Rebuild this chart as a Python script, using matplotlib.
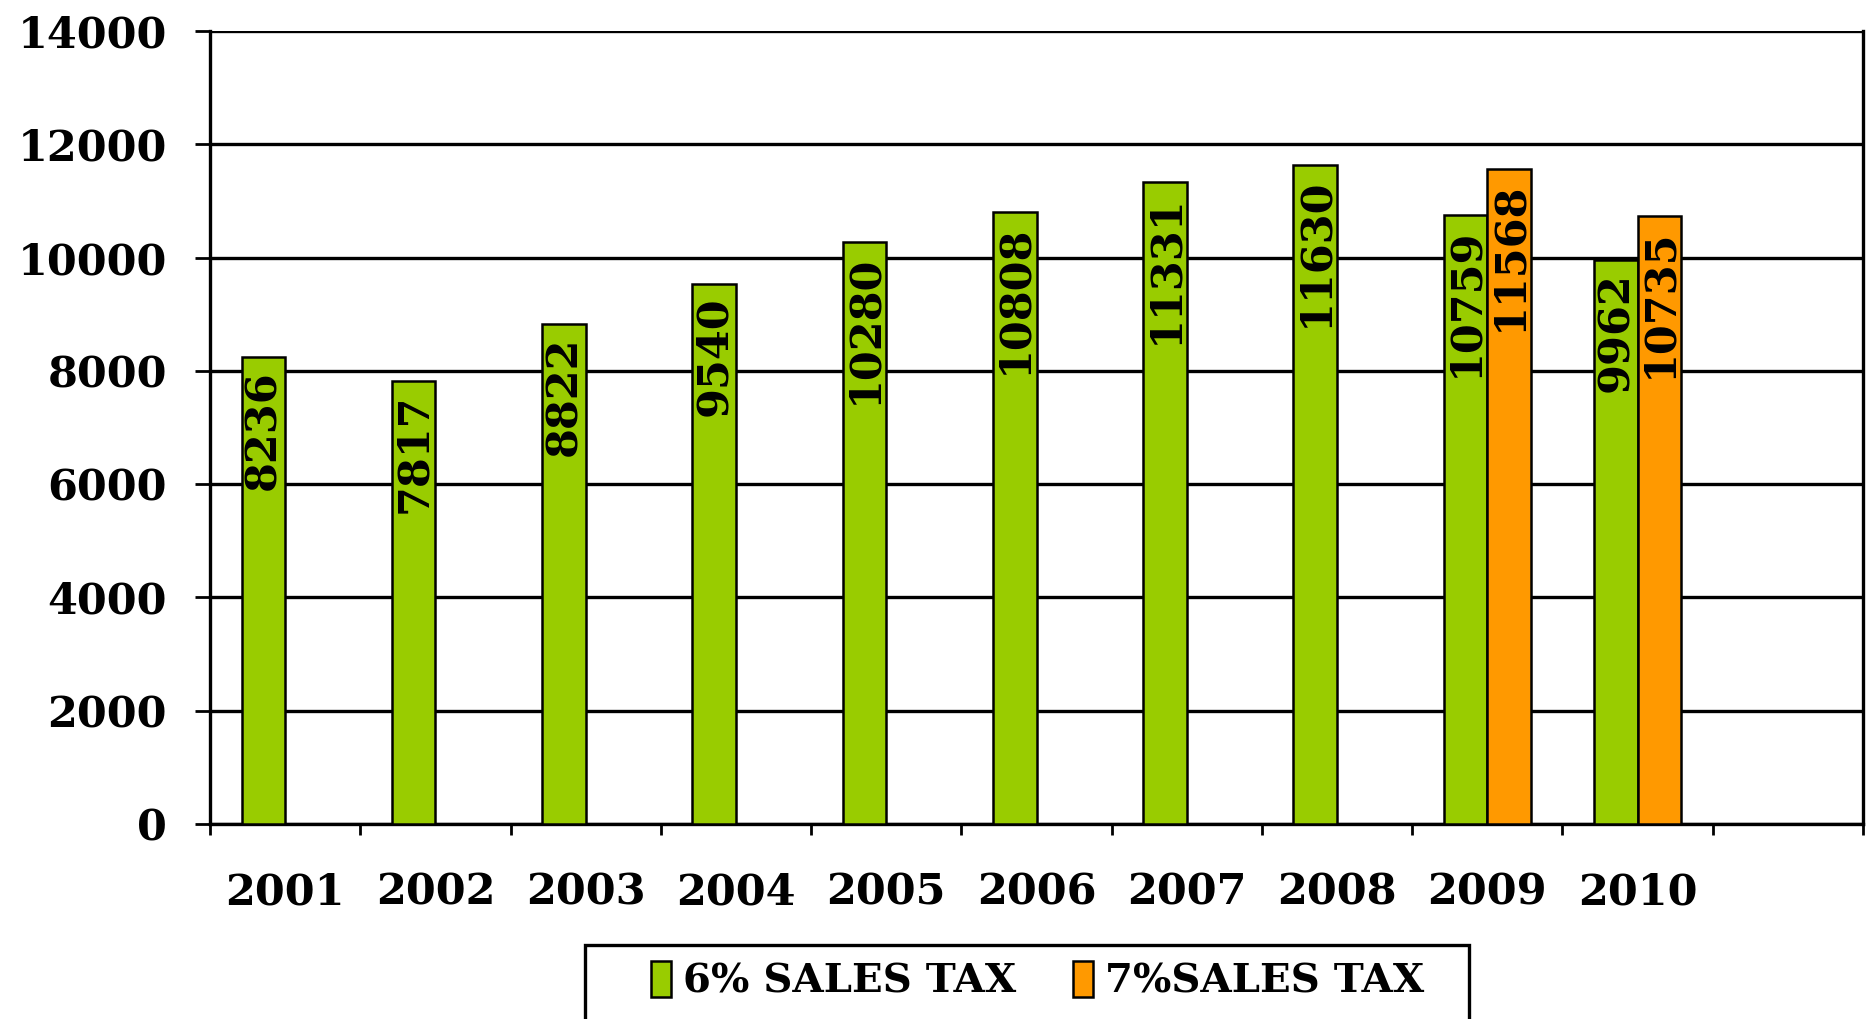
import numpy as np
import matplotlib.pyplot as plt
from matplotlib.patches import Rectangle

years = ["2001", "2002", "2003", "2004", "2005", "2006", "2007", "2008", "2009", "2010"]
tax6 = [8236, 7817, 8822, 9540, 10280, 10808, 11331, 11630, 10759, 9962]
tax7 = [None, None, None, None, None, None, None, None, 11568, 10735]
series_names = ["6% SALES TAX", "7%SALES TAX"]

plt.rcParams['font.family'] = ['DejaVu Serif']
plt.rcParams['font.weight'] = 'bold'

fig = plt.figure(figsize=(18.72, 10.19), dpi=100)
ax = fig.add_axes([0.1122, 0.1914, 0.8830, 0.7782])

x = np.arange(len(years))
w = 0.29
v7 = np.array([np.nan if v is None else v for v in tax7], dtype=float)

b6 = ax.bar(x - w / 2, tax6, w, color="#99cc00", edgecolor="black", linewidth=1.8,
            label=series_names[0], zorder=3)
b7 = ax.bar(x + w / 2, v7, w, color="#ff9900", edgecolor="black", linewidth=1.8,
            label=series_names[1], zorder=3)

for bars, vals in ((b6, tax6), (b7, tax7)):
    for r, v in zip(bars, vals):
        if v is None:
            continue
        ax.annotate(str(v), (r.get_x() + r.get_width() / 2, r.get_height()),
                    xytext=(0, -9), textcoords="offset points",
                    rotation=90, ha="center", va="top",
                    fontsize=31, fontweight="bold", zorder=4)

ax.set_xlim(-0.5, 10.5)
ax.set_ylim(0, 14000)
ax.set_yticks(np.arange(0, 14001, 2000))
ax.tick_params(axis="y", labelsize=31, length=11, width=2, pad=20, direction="out")
ax.grid(axis="y", color="black", linewidth=2.4, zorder=0)

ax.set_xticks(np.arange(-0.5, 11, 1))
ax.set_xticklabels([])
ax.set_xticks(x, minor=True)
ax.set_xticklabels(years, minor=True)
ax.tick_params(axis="x", which="major", length=8, width=2, direction="out")
ax.tick_params(axis="x", which="minor", length=0, labelsize=31, pad=34)

for s in ("left", "right", "bottom"):
    ax.spines[s].set_linewidth(2.4)
    ax.spines[s].set_color("black")
ax.spines["top"].set_visible(False)

# legend frame runs off the bottom edge, as in the original
fig.patches.append(Rectangle((585 / 1872, -0.05), (1469 - 585) / 1872, 74 / 1019 + 0.05,
                             transform=fig.transFigure, fill=False,
                             edgecolor="black", linewidth=2.4))
leg = fig.legend(handles=[b6, b7], labels=series_names, loc="center",
                 bbox_to_anchor=(0.5542, 0.0373), ncol=2, fontsize=29,
                 frameon=False, borderaxespad=0, borderpad=0,
                 handlelength=0.5, handleheight=1.0, handletextpad=0.3,
                 columnspacing=1.4)

fig.savefig("out.png", dpi=100)
